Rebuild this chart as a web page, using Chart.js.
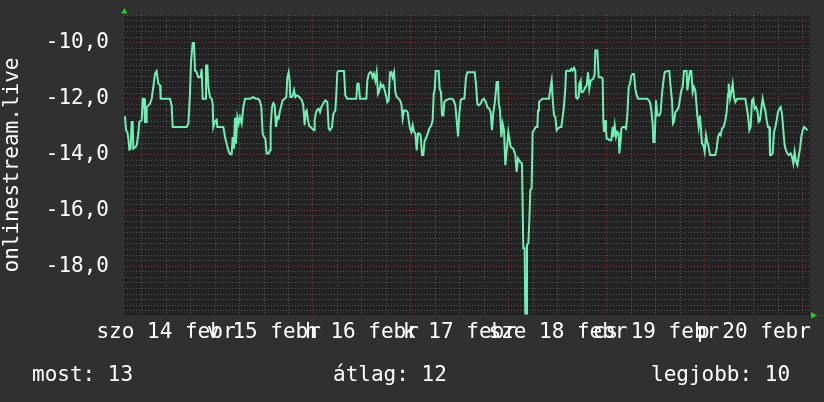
<!DOCTYPE html>
<html>
<head>
<meta charset="utf-8">
<script src="https://cdn.jsdelivr.net/npm/chart.js@4/dist/chart.umd.min.js"></script>
<style>
  html, body { margin: 0; padding: 0; background: #303030; }
  #wrap { position: relative; width: 824px; height: 402px; }
  #rankChart { position: absolute; left: 0; top: 0; }
  .stat { position: absolute; top: 364px; font: 21px/21px "DejaVu Sans Mono", monospace; color: #fff; white-space: pre; }
</style>
</head>
<body>
<div id="wrap">
  <canvas id="rankChart" width="824" height="402"></canvas>
  <div class="stat" id="stat0" style="left:32px"></div>
  <div class="stat" id="stat1" style="left:333px"></div>
  <div class="stat" id="stat2" style="left:651px"></div>
</div>
<script>
// hours relative to midnight sat 14 -> sun 15 feb
const hours = [
  -22.05, -21.80, -21.47, -21.23, -20.98, -20.66, -20.41, -20.17, -20.00, -19.60,
  -19.19, -18.78, -18.53, -17.96, -17.72, -17.39, -17.15, -16.90, -16.74, -15.92,
  -15.51, -15.11, -14.70, -14.29, -13.88, -13.47, -13.31, -11.02, -10.62, -10.37,
  -6.94, -6.53, -6.13, -5.88, -5.47, -5.15, -4.90, -4.49, -4.08, -3.51,
  -3.27, -3.02, -2.45, -2.21, -1.88, -1.64, -1.23, -0.82, -0.57, -0.41,
  0.00, 0.41, 0.57, 2.04, 2.45, 2.85, 3.26, 3.67, 4.08, 4.32,
  4.65, 4.90, 5.14, 5.47, 5.79, 6.12, 6.53, 6.94, 7.35, 7.75,
  8.57, 9.39, 10.04, 10.53, 10.94, 11.35, 11.67, 12.00, 12.33, 12.65,
  13.14, 13.47, 13.63, 13.96, 14.29, 14.61, 14.94, 15.27, 15.59, 15.92,
  16.24, 16.57, 17.06, 17.47, 17.71, 18.04, 18.29, 18.45, 18.86, 19.18,
  19.35, 19.67, 20.00, 20.33, 20.65, 20.98, 21.31, 21.63, 21.96, 22.20,
  22.45, 22.78, 23.10, 23.43, 23.76, 24.25, 24.41, 24.74, 25.06, 25.39,
  25.72, 26.04, 26.53, 27.02, 27.51, 27.84, 28.16, 28.65, 28.98, 29.47,
  29.72, 29.96, 30.29, 31.59, 31.92, 32.41, 34.61, 34.86, 35.19, 35.51,
  37.06, 37.31, 37.63, 37.96, 38.29, 38.61, 38.94, 39.27, 39.59, 39.92,
  40.25, 40.57, 40.90, 41.23, 41.55, 41.88, 42.21, 42.53, 42.86, 43.19,
  43.51, 43.84, 44.17, 44.49, 44.98, 45.31, 45.64, 45.96, 46.29, 46.78,
  47.19, 47.43, 47.76, 48.09, 48.41, 48.74, 49.07, 49.39, 49.72, 50.04,
  50.37, 50.70, 51.02, 51.35, 51.68, 52.09, 52.49, 52.98, 53.31, 53.56,
  53.80, 54.05, 54.78, 55.02, 55.35, 55.60, 55.92, 56.17, 56.58, 57.39,
  58.05, 58.45, 58.86, 59.19, 59.52, 59.84, 60.17, 60.49, 61.07, 61.47,
  61.80, 63.60, 63.92, 64.25, 64.58, 65.07, 65.39, 65.88, 66.37, 66.70,
  67.19, 67.52, 67.84, 68.17, 68.50, 68.82, 68.98, 69.31, 69.48, 69.80,
  70.13, 70.45, 70.78, 71.11, 71.84, 72.41, 73.06, 73.55, 73.88, 74.21,
  74.70, 75.19, 75.51, 75.84, 76.00, 76.25, 76.41, 76.74, 76.98, 77.23,
  77.55, 77.80, 78.13, 78.54, 78.95, 79.11, 79.35, 79.76, 80.17, 81.80,
  82.21, 82.46, 82.70, 83.03, 83.36, 83.68, 84.01, 84.50, 84.82, 85.15,
  85.48, 85.80, 85.97, 86.29, 86.95, 87.27, 87.60, 87.93, 88.25, 88.42,
  88.74, 89.07, 89.23, 89.56, 89.72, 90.05, 90.38, 90.70, 91.03, 91.36,
  91.68, 92.01, 92.34, 92.66, 92.99, 93.15, 93.64, 93.97, 94.62, 94.95,
  95.11, 95.27, 95.60, 95.76, 95.93, 96.25, 96.58, 97.07, 97.40, 97.56,
  97.89, 98.21, 98.54, 98.87, 99.03, 99.36, 99.52, 99.85, 100.34, 100.66,
  100.99, 101.32, 101.64, 101.97, 102.30, 102.62, 102.95, 103.28, 103.60, 105.89,
  106.54, 106.87, 107.19, 107.36, 107.68, 108.01, 108.34, 108.83, 109.15, 109.48,
  109.81, 110.13, 110.79, 111.28, 111.60, 111.93, 112.17, 112.42, 112.75, 113.15,
  113.56, 113.89, 114.22, 114.54, 114.87, 115.52, 115.69, 116.01, 116.34, 116.66,
  116.99, 117.32, 117.64, 117.81, 118.13, 118.46, 118.79, 118.95, 119.28, 119.60,
  119.93, 120.26, 120.58, 120.91, 121.24, 122.54, 122.87, 123.20, 123.52, 123.85,
  124.18, 124.58, 124.99, 125.32, 125.65, 125.81, 126.14, 126.46, 126.79, 127.12,
  127.44, 127.93, 129.89, 130.22, 130.54, 130.87, 131.20, 131.52, 131.85, 132.18,
  132.50, 132.83, 133.16, 133.48, 133.81, 134.14, 134.46, 134.79, 135.12, 135.44,
  135.77, 135.93, 136.26, 136.59, 136.91, 137.24, 137.56, 137.89, 138.22, 138.54,
  138.87, 139.20, 139.52, 139.85, 140.18, 140.50, 140.99, 141.32, 141.65, 141.97,
  142.30, 142.63, 142.95, 143.28, 143.61, 143.93, 144.26, 144.75, 145.08
];

// negated rank of onlinestream.live
const rank = [
  -12.63, -13.13, -13.19, -13.43, -13.82, -13.79, -12.83, -12.83, -13.79, -13.75,
  -13.67, -13.25, -12.83, -12.77, -12.00, -12.00, -12.83, -12.83, -12.30, -12.18,
  -12.00, -11.58, -11.11, -11.01, -11.46, -11.52, -12.00, -12.00, -12.24, -13.01,
  -13.01, -12.89, -11.82, -10.69, -10.00, -10.00, -10.99, -11.05, -11.23, -11.23,
  -10.93, -12.00, -12.00, -10.81, -10.81, -11.58, -11.94, -12.00, -12.18, -13.01,
  -12.80, -12.75, -13.01, -13.01, -13.37, -13.61, -13.85, -13.99, -13.99, -13.37,
  -13.79, -12.68, -13.61, -12.66, -12.89, -12.66, -12.89, -12.30, -12.00, -12.00,
  -12.00, -11.94, -12.00, -12.00, -12.06, -12.30, -13.25, -13.37, -13.43, -13.96,
  -13.96, -13.85, -13.01, -12.30, -12.16, -12.24, -13.01, -12.66, -12.71, -12.42,
  -12.24, -12.06, -12.00, -11.94, -11.25, -11.05, -11.35, -11.94, -11.94, -11.82,
  -11.70, -11.94, -11.88, -11.90, -11.94, -12.00, -12.06, -12.24, -12.95, -12.48,
  -12.42, -12.77, -12.99, -13.01, -13.07, -13.13, -12.77, -12.48, -12.39, -12.36,
  -12.48, -12.30, -12.16, -12.06, -12.12, -13.07, -13.13, -13.01, -12.54, -12.42,
  -11.82, -11.05, -11.01, -11.01, -11.88, -12.00, -12.00, -11.46, -11.46, -12.00,
  -12.00, -11.35, -11.13, -11.05, -11.05, -11.23, -11.11, -11.35, -11.05, -11.82,
  -11.70, -11.46, -11.58, -11.52, -11.70, -11.88, -12.12, -12.06, -11.05, -11.05,
  -11.23, -11.05, -11.76, -11.94, -12.00, -12.06, -12.18, -12.71, -12.42, -12.42,
  -12.48, -12.77, -13.07, -13.19, -12.95, -13.19, -13.25, -13.85, -13.25, -13.25,
  -13.31, -14.02, -14.02, -13.49, -13.43, -13.25, -13.07, -12.95, -12.77, -11.82,
  -11.70, -11.01, -11.01, -11.64, -11.76, -12.60, -12.60, -12.12, -12.06, -12.00,
  -12.00, -12.06, -12.24, -12.77, -13.35, -12.54, -12.06, -12.00, -12.00, -11.23,
  -11.05, -11.05, -11.46, -12.18, -12.24, -12.18, -12.06, -12.00, -12.12, -12.30,
  -12.36, -12.48, -13.13, -12.48, -12.18, -11.70, -11.40, -11.40, -12.12, -12.42,
  -13.37, -12.89, -13.13, -14.38, -13.19, -13.73, -13.79, -14.02, -14.62, -14.14,
  -14.26, -14.32, -17.36, -17.36, -19.70, -19.70, -17.24, -17.18, -16.41, -15.27,
  -15.22, -13.19, -13.13, -13.01, -13.01, -12.42, -12.12, -12.06, -12.00, -12.00,
  -11.58, -11.35, -12.00, -12.60, -12.66, -13.13, -13.07, -13.01, -13.01, -12.66,
  -12.24, -11.64, -11.01, -10.99, -11.01, -10.93, -10.99, -10.89, -10.99, -11.94,
  -12.00, -11.94, -11.46, -11.35, -11.76, -11.76, -11.70, -11.58, -11.52, -11.05,
  -11.64, -11.35, -11.32, -11.29, -11.11, -10.27, -10.27, -11.23, -11.23, -11.29,
  -12.77, -13.19, -12.77, -13.13, -13.43, -13.43, -13.49, -13.49, -13.01, -13.37,
  -12.95, -13.37, -13.19, -13.25, -13.96, -13.49, -13.07, -13.01, -13.01, -13.07,
  -12.60, -11.58, -11.46, -11.17, -11.11, -11.11, -11.64, -11.88, -12.00, -12.00,
  -12.12, -12.42, -12.89, -13.55, -13.55, -12.06, -12.60, -12.60, -12.48, -11.82,
  -11.40, -11.05, -11.01, -11.01, -11.58, -12.06, -12.89, -12.83, -12.48, -12.42,
  -12.30, -12.00, -11.70, -11.58, -11.01, -11.01, -11.70, -11.35, -11.01, -11.01,
  -11.76, -11.58, -11.70, -12.00, -12.60, -13.01, -12.60, -12.60, -13.61, -13.67,
  -13.91, -13.31, -13.55, -13.73, -14.02, -14.02, -13.79, -13.37, -13.25, -13.31,
  -13.07, -13.01, -12.77, -12.48, -11.82, -11.46, -12.00, -11.76, -11.46, -11.94,
  -12.12, -12.00, -12.00, -12.30, -12.60, -13.13, -13.01, -12.06, -12.00, -12.36,
  -12.30, -12.42, -12.83, -12.77, -12.36, -12.00, -12.24, -12.42, -12.77, -13.01,
  -13.01, -14.02, -14.02, -13.96, -13.19, -13.01, -12.77, -12.48, -12.36, -12.30,
  -12.54, -13.13, -13.67, -13.85, -13.96, -14.02, -13.96, -14.08, -14.32, -13.91,
  -14.26, -14.38, -14.08, -13.79, -13.37, -13.13, -13.01, -13.07, -13.13
];

const dayLabelHours = [-12, 12, 36, 60, 84, 108, 132];
const dayLabelText = ['szo 14 febr', 'v 15 febr', 'h 16 febr', 'k 17 febr', 'sze 18 febr', 'cs 19 febr', 'p 20 febr'];
const statNames = ['most', 'átlag', 'legjobb'];
const statValues = [13, 12, 10];

const FONT = '"DejaVu Sans Mono", monospace';
const minorGrid = '#575757';
const majorGrid = '#803434';

statNames.forEach((name, i) => {
  document.getElementById('stat' + i).textContent = name + ': ' + statValues[i];
});

// chart.js adds label padding around the plot; the reference has none
function noScalePadding(scale) {
  scale.paddingTop = 0;
  scale.paddingBottom = 0;
  scale.paddingLeft = 0;
  scale.paddingRight = 0;
}

const backdrop = {
  id: 'backdrop',
  beforeDraw(chart) {
    const { ctx, chartArea: a } = chart;
    ctx.save();
    ctx.fillStyle = '#303030';
    ctx.fillRect(0, 0, chart.width, chart.height);
    ctx.fillStyle = '#222222';
    ctx.fillRect(a.left, a.top, a.right - a.left, a.bottom - a.top);
    ctx.restore();
  },
  afterDraw(chart) {
    const { ctx, chartArea: a } = chart;
    ctx.save();
    ctx.fillStyle = '#1ed21e';
    ctx.beginPath();
    ctx.moveTo(a.left - 3, a.top - 1.5);
    ctx.lineTo(a.left + 3.5, a.top - 1.5);
    ctx.lineTo(a.left + 0.5, a.top - 7);
    ctx.fill();
    ctx.beginPath();
    ctx.moveTo(a.right + 1, a.bottom - 3);
    ctx.lineTo(a.right + 1, a.bottom + 3.5);
    ctx.lineTo(a.right + 7, a.bottom + 0.5);
    ctx.fill();
    ctx.restore();
  }
};

const ctx = document.getElementById('rankChart').getContext('2d');
const rankChart = new Chart(ctx, {
  type: 'line',
  data: {
    datasets: [{
      label: 'onlinestream.live',
      data: hours.map((h, i) => ({ x: h, y: rank[i] })),
      borderColor: '#6ef0b4',
      borderWidth: 2,
      pointRadius: 0,
      tension: 0,
      fill: false
    }]
  },
  options: {
    responsive: false,
    animation: false,
    devicePixelRatio: 1,
    layout: { padding: { left: 0, right: 14, top: 15, bottom: 0 } },
    plugins: { legend: { display: false }, tooltip: { enabled: false } },
    scales: {
      x: {
        type: 'linear',
        min: -22.29,
        max: 145.73,
        afterBuildTicks: (scale) => {
          const ticks = [];
          for (let k = Math.ceil(scale.min / 6); k <= Math.floor(scale.max / 6); k++) ticks.push({ value: k * 6 });
          scale.ticks = ticks;
        },
        afterFit: (scale) => { scale.height = 87; noScalePadding(scale); },
        grid: {
          drawTicks: false,
          color: (c) => (c.tick && c.tick.value % 24 === 0) ? majorGrid : minorGrid
        },
        border: { display: false, dash: [1, 2] },
        ticks: {
          autoSkip: false,
          maxRotation: 0,
          minRotation: 0,
          padding: 5,
          color: '#ffffff',
          font: { family: FONT, size: 21 },
          callback: (value) => {
            const i = dayLabelHours.indexOf(value);
            return i >= 0 ? dayLabelText[i] : '';
          }
        }
      },
      y: {
        min: -19.75,
        max: -9.0,
        afterBuildTicks: (scale) => {
          const ticks = [];
          for (let k = Math.ceil(scale.min * 5 - 1e-6); k <= Math.floor(scale.max * 5 + 1e-6); k++) ticks.push({ value: k / 5 });
          scale.ticks = ticks;
        },
        afterFit: (scale) => { scale.width = 124; noScalePadding(scale); },
        grid: {
          drawTicks: false,
          color: (c) => (c.tick && Math.round(c.tick.value * 5) % 10 === 0) ? majorGrid : minorGrid
        },
        border: { display: false, dash: [1, 2] },
        title: {
          display: true,
          text: 'onlinestream.live',
          color: '#ffffff',
          font: { family: FONT, size: 21 },
          padding: { top: 0, bottom: 0 }
        },
        ticks: {
          autoSkip: false,
          padding: 15,
          color: '#ffffff',
          font: { family: FONT, size: 21 },
          callback: (value) => {
            const r = Math.round(value * 5);
            return r % 10 === 0 ? (r / 5).toFixed(1).replace('.', ',') : '';
          }
        }
      }
    }
  },
  plugins: [backdrop]
});
</script>
</body>
</html>
